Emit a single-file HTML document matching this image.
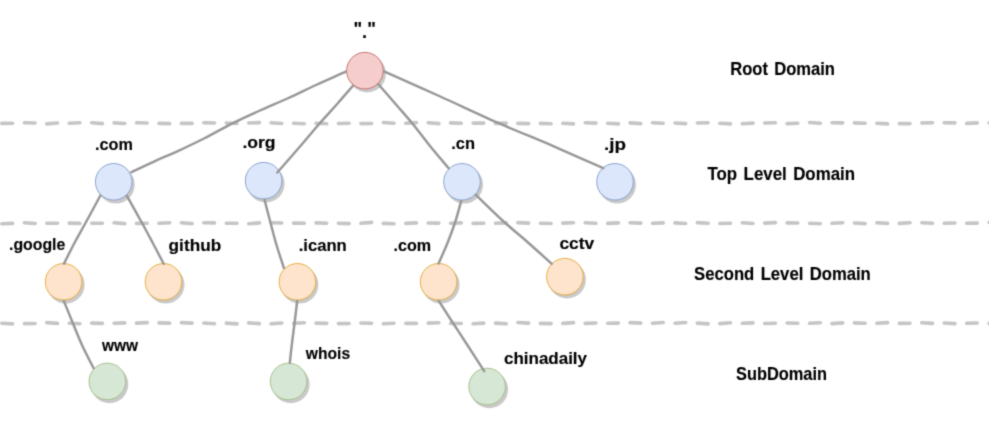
<!DOCTYPE html>
<html lang="en">
<head>
<meta charset="utf-8">
<title>DNS domain hierarchy</title>
<style>
html,body{margin:0;padding:0;background:#fff;}
body{width:989px;height:427px;overflow:hidden;}
svg{display:block;}
text{font-family:"Liberation Sans","DejaVu Sans",sans-serif;font-weight:bold;font-size:19px;fill:#000;stroke:#000;stroke-width:0.15px;word-spacing:2px;}
text.lc{font-size:17px;}
.edge{fill:none;stroke:#979797;stroke-width:2.45;stroke-linecap:round;stroke-linejoin:round;}
.sep{fill:none;stroke:#c5c5c5;stroke-width:3.6;stroke-linecap:round;}
.sh{fill:#000;fill-opacity:0.21;}
</style>
</head>
<body>
<svg width="989" height="427" viewBox="0 0 989 427">
<defs><filter id="soft" x="0" y="0" width="989" height="427" filterUnits="userSpaceOnUse" color-interpolation-filters="sRGB"><feConvolveMatrix order="3" kernelMatrix="1 4 1 4 18 4 1 4 1" edgeMode="duplicate" preserveAlpha="true"/></filter></defs>
<rect width="989" height="427" fill="#fff"/>
<g filter="url(#soft)">
<rect width="989" height="427" fill="#fff"/>
<g id="separators">
<path class="sep" d="M-20.5,123.5 L-9.8,123.0 M1.9,123.4 L12.6,123.2 M24.4,122.7 L35.1,123.0 M46.8,123.9 L57.5,123.0 M69.2,123.2 L79.9,122.8 M91.7,122.7 L102.4,123.6 M114.1,122.9 L124.8,123.5 M136.5,122.8 L147.2,123.0 M159.0,123.4 L169.7,123.6 M181.4,123.4 L192.1,123.4 M203.8,122.7 L214.5,123.0 M226.3,123.0 L237.0,123.5 M248.7,123.0 L259.4,122.6 M271.1,122.8 L281.8,123.5 M293.6,123.3 L304.3,123.7 M316.0,123.3 L326.7,123.7 M338.4,123.5 L349.1,123.3 M360.9,123.6 L371.6,123.5 M383.3,122.5 L394.0,123.2 M405.8,123.3 L416.4,122.6 M428.2,122.7 L438.9,123.6 M450.6,122.9 L461.3,123.2 M473.1,123.1 L483.8,123.1 M495.5,123.4 L506.2,123.1 M517.9,123.4 L528.6,123.6 M540.4,123.4 L551.1,123.7 M562.8,123.3 L573.5,123.9 M585.2,122.8 L595.9,123.1 M607.7,123.2 L618.4,123.9 M630.1,122.9 L640.8,123.6 M652.5,122.8 L663.2,123.2 M675.0,123.0 L685.7,123.6 M697.4,123.0 L708.1,122.7 M719.8,123.3 L730.5,123.9 M742.3,123.8 L753.0,123.1 M764.7,123.0 L775.4,122.8 M787.1,123.6 L797.8,123.2 M809.6,122.5 L820.3,123.2 M832.0,122.7 L842.7,122.9 M854.4,122.9 L865.1,123.3 M876.9,123.2 L887.6,123.9 M899.3,123.6 L910.0,123.6 M921.8,123.0 L932.5,122.7 M944.2,122.7 L954.9,122.9 M966.6,123.4 L977.3,122.9 M989.1,122.8 L999.8,123.0"/>
<path class="sep" d="M-20.5,223.9 L-9.8,223.1 M1.9,223.7 L12.6,223.4 M24.4,222.7 L35.1,223.5 M46.8,223.3 L57.5,223.2 M69.2,223.1 L79.9,223.4 M91.7,223.2 L102.4,223.3 M114.1,222.8 L124.8,223.6 M136.5,223.4 L147.2,223.3 M159.0,223.3 L169.7,222.8 M181.4,222.8 L192.1,223.6 M203.8,222.8 L214.5,222.9 M226.3,223.3 L237.0,223.2 M248.7,223.7 L259.4,222.9 M271.1,222.7 L281.8,223.0 M293.6,223.1 L304.3,223.3 M316.0,222.9 L326.7,223.2 M338.4,223.2 L349.1,223.6 M360.9,223.3 L371.6,222.4 M383.3,223.4 L394.0,223.7 M405.8,223.4 L416.4,222.9 M428.2,223.0 L438.9,223.1 M450.6,223.2 L461.3,222.9 M473.1,223.4 L483.8,223.2 M495.5,223.3 L506.2,222.9 M517.9,222.6 L528.6,223.1 M540.4,223.3 L551.1,223.5 M562.8,223.1 L573.5,222.8 M585.2,222.7 L595.9,223.3 M607.7,223.4 L618.4,222.9 M630.1,222.7 L640.8,223.1 M652.5,223.2 L663.2,222.9 M675.0,222.9 L685.7,223.5 M697.4,222.6 L708.1,223.3 M719.8,223.5 L730.5,223.2 M742.3,222.8 L753.0,223.5 M764.7,223.1 L775.4,222.6 M787.1,222.9 L797.8,223.0 M809.6,223.2 L820.3,223.7 M832.0,223.3 L842.7,222.7 M854.4,223.0 L865.1,223.6 M876.9,222.8 L887.6,223.4 M899.3,223.4 L910.0,222.7 M921.8,222.8 L932.5,223.3 M944.2,223.3 L954.9,223.0 M966.6,223.2 L977.3,223.1 M989.1,222.5 L999.8,223.3"/>
<path class="sep" d="M-20.5,324.0 L-9.8,323.1 M1.9,323.2 L12.6,323.9 M24.4,323.6 L35.1,323.5 M46.8,322.6 L57.5,323.4 M69.2,323.2 L79.9,323.7 M91.7,323.1 L102.4,323.4 M114.1,323.3 L124.8,322.9 M136.5,323.1 L147.2,322.6 M159.0,322.9 L169.7,323.1 M181.4,322.6 L192.1,323.1 M203.8,323.0 L214.5,323.7 M226.3,323.1 L237.0,323.9 M248.7,322.9 L259.4,323.6 M271.1,323.8 L281.8,323.0 M293.6,323.3 L304.3,322.7 M316.0,323.1 L326.7,323.4 M338.4,323.6 L349.1,323.5 M360.9,323.0 L371.6,323.2 M383.3,323.7 L394.0,323.3 M405.8,323.4 L416.4,323.4 M428.2,323.1 L438.9,322.8 M450.6,323.4 L461.3,323.5 M473.1,323.7 L483.8,323.1 M495.5,323.1 L506.2,323.8 M517.9,322.5 L528.6,323.1 M540.4,323.4 L551.1,323.6 M562.8,323.4 L573.5,322.6 M585.2,323.4 L595.9,323.0 M607.7,323.2 L618.4,323.1 M630.1,322.6 L640.8,323.1 M652.5,323.3 L663.2,322.5 M675.0,323.2 L685.7,322.5 M697.4,323.1 L708.1,323.9 M719.8,323.6 L730.5,322.8 M742.3,323.2 L753.0,322.9 M764.7,323.5 L775.4,323.2 M787.1,323.0 L797.8,323.2 M809.6,323.3 L820.3,322.8 M832.0,323.6 L842.7,322.9 M854.4,322.9 L865.1,323.3 M876.9,323.3 L887.6,322.6 M899.3,323.4 L910.0,323.2 M921.8,322.8 L932.5,323.4 M944.2,323.0 L954.9,323.6 M966.6,323.2 L977.3,323.0 M989.1,323.4 L999.8,323.4"/>
</g>
<g id="nodes">
<circle class="sh" cx="367.1" cy="73.7" r="18.8"/><circle cx="364.9" cy="70.7" r="18.3" fill="#f6cdcd" stroke="#c0605c" stroke-width="0.85"/>
<circle class="sh" cx="115.9" cy="184.8" r="18.8"/><circle cx="113.7" cy="181.8" r="18.3" fill="#dce7fb" stroke="#7a96c6" stroke-width="0.85"/>
<circle class="sh" cx="265.8" cy="183.7" r="18.8"/><circle cx="263.6" cy="180.7" r="18.3" fill="#dce7fb" stroke="#7a96c6" stroke-width="0.85"/>
<circle class="sh" cx="464.2" cy="184.8" r="18.8"/><circle cx="462.0" cy="181.8" r="18.3" fill="#dce7fb" stroke="#7a96c6" stroke-width="0.85"/>
<circle class="sh" cx="617.2" cy="184.8" r="18.8"/><circle cx="615.0" cy="181.8" r="18.3" fill="#dce7fb" stroke="#7a96c6" stroke-width="0.85"/>
<circle class="sh" cx="65.8" cy="284.8" r="18.8"/><circle cx="63.6" cy="281.8" r="18.3" fill="#fee3cd" stroke="#e0a526" stroke-width="0.85"/>
<circle class="sh" cx="165.7" cy="284.8" r="18.8"/><circle cx="163.5" cy="281.8" r="18.3" fill="#fee3cd" stroke="#e0a526" stroke-width="0.85"/>
<circle class="sh" cx="299.6" cy="284.8" r="18.8"/><circle cx="297.4" cy="281.8" r="18.3" fill="#fee3cd" stroke="#e0a526" stroke-width="0.85"/>
<circle class="sh" cx="440.8" cy="284.8" r="18.8"/><circle cx="438.6" cy="281.8" r="18.3" fill="#fee3cd" stroke="#e0a526" stroke-width="0.85"/>
<circle class="sh" cx="567.1" cy="279.7" r="18.8"/><circle cx="564.9" cy="276.7" r="18.3" fill="#fee3cd" stroke="#e0a526" stroke-width="0.85"/>
<circle class="sh" cx="109.5" cy="384.4" r="18.8"/><circle cx="107.3" cy="381.4" r="18.3" fill="#d6e7d5" stroke="#9dba7c" stroke-width="0.85"/>
<circle class="sh" cx="290.8" cy="384.5" r="18.8"/><circle cx="288.6" cy="381.5" r="18.3" fill="#d6e7d5" stroke="#9dba7c" stroke-width="0.85"/>
<circle class="sh" cx="489.3" cy="389.5" r="18.8"/><circle cx="487.1" cy="386.5" r="18.3" fill="#d6e7d5" stroke="#9dba7c" stroke-width="0.85"/>
</g>
<g id="edges">
<path class="edge" d="M345.8,71.6 C340.9,73.9 325.5,80.6 316.0,85.0 C306.5,89.4 297.9,93.8 288.6,98.0 C279.3,102.2 269.4,106.3 260.0,110.5 C250.6,114.7 241.7,118.7 232.4,123.4 C223.1,128.1 213.4,133.8 204.0,138.5 C194.6,143.2 184.1,148.2 176.2,151.9 C168.3,155.6 163.9,157.0 156.5,160.4 C149.1,163.8 135.8,170.2 131.6,172.2"/>
<path class="edge" d="M353.0,85.7 C350.5,88.5 343.5,96.7 338.0,103.0 C332.5,109.3 326.1,116.0 319.8,123.2 C313.5,130.4 307.1,138.3 300.0,146.5 C292.9,154.7 281.1,168.2 277.3,172.5"/>
<path class="edge" d="M378.4,84.2 C381.4,87.6 390.4,98.0 396.0,104.5 C401.6,111.0 406.5,116.3 412.2,123.2 C417.9,130.1 423.9,138.5 430.0,146.0 C436.1,153.5 445.6,164.6 448.7,168.3"/>
<path class="edge" d="M384.0,71.3 C393.4,75.5 421.1,87.8 440.3,96.5 C459.5,105.2 480.6,115.2 499.3,123.4 C518.0,131.6 535.4,138.4 552.7,145.9 C570.0,153.4 594.9,164.5 603.3,168.2"/>
<path class="edge" d="M100.4,195.5 C98.1,199.9 90.5,213.8 86.3,221.5 C82.1,229.2 78.7,235.0 75.0,242.0 C71.3,249.0 65.8,260.0 64.0,263.6"/>
<path class="edge" d="M126.8,195.7 C129.3,200.1 137.2,214.2 141.5,222.0 C145.8,229.8 148.8,235.5 152.5,242.5 C156.2,249.5 161.8,260.2 163.7,263.8"/>
<path class="edge" d="M264.5,199.8 C265.5,203.5 268.3,214.5 270.3,222.0 C272.3,229.5 274.2,237.4 276.5,245.0 C278.8,252.6 282.6,264.0 283.8,267.8"/>
<path class="edge" d="M461.2,200.9 C460.2,204.4 457.5,215.0 455.2,222.0 C452.9,229.0 450.3,236.1 447.5,243.0 C444.7,249.9 440.0,260.2 438.5,263.6"/>
<path class="edge" d="M475.9,194.9 C480.6,199.4 495.5,214.1 504.2,222.0 C512.9,229.9 520.1,235.5 528.0,242.5 C535.9,249.5 547.8,260.2 551.8,263.8"/>
<path class="edge" d="M63.8,300.9 C65.3,304.7 70.0,316.1 73.0,323.5 C76.0,330.9 78.6,337.5 82.0,345.0 C85.4,352.5 91.7,364.4 93.6,368.3"/>
<path class="edge" d="M297.2,300.9 C296.7,304.7 295.4,316.5 294.5,323.5 C293.6,330.5 292.8,336.4 292.0,343.0 C291.2,349.6 290.2,359.5 289.8,362.8"/>
<path class="edge" d="M438.8,300.9 C441.2,304.7 448.4,316.0 453.3,323.5 C458.2,331.0 462.9,338.1 468.0,346.0 C473.1,353.9 481.5,367.0 484.2,371.2"/>
</g>
<g id="labels">
<text x="353.4" y="37.5" textLength="22.5" lengthAdjust="spacingAndGlyphs"><tspan dy="-2.2">"</tspan><tspan dy="2.2">.</tspan><tspan dy="-2.2">"</tspan></text>
<text class="lc" x="95.0" y="149.6" textLength="37.8" lengthAdjust="spacingAndGlyphs">.com</text>
<text class="lc" x="242.4" y="148.2" textLength="33.2" lengthAdjust="spacingAndGlyphs">.org</text>
<text class="lc" x="451.2" y="149.3" textLength="23.8" lengthAdjust="spacingAndGlyphs">.cn</text>
<text class="lc" x="604.0" y="149.6" textLength="22.0" lengthAdjust="spacingAndGlyphs">.jp</text>
<text class="lc" x="9.0" y="250.1" textLength="56.3" lengthAdjust="spacingAndGlyphs">.google</text>
<text class="lc" x="168.6" y="250.9" textLength="52.6" lengthAdjust="spacingAndGlyphs">github</text>
<text class="lc" x="298.7" y="251.1" textLength="48.0" lengthAdjust="spacingAndGlyphs">.icann</text>
<text class="lc" x="393.5" y="251.1" textLength="37.5" lengthAdjust="spacingAndGlyphs">.com</text>
<text class="lc" x="559.4" y="248.8" textLength="34.8" lengthAdjust="spacingAndGlyphs">cctv</text>
<text class="lc" x="101.9" y="351.4" textLength="36.0" lengthAdjust="spacingAndGlyphs">www</text>
<text class="lc" x="305.8" y="358.6" textLength="44.3" lengthAdjust="spacingAndGlyphs">whois</text>
<text class="lc" x="504.0" y="363.6" textLength="83.0" lengthAdjust="spacingAndGlyphs">chinadaily</text>
<text x="730.2" y="74.6" textLength="104.8" lengthAdjust="spacingAndGlyphs">Root Domain</text>
<text x="707.5" y="180.4" textLength="147.5" lengthAdjust="spacingAndGlyphs">Top Level Domain</text>
<text x="694.1" y="280.4" textLength="176.7" lengthAdjust="spacingAndGlyphs">Second Level Domain</text>
<text x="736.0" y="380.3" textLength="91.0" lengthAdjust="spacingAndGlyphs">SubDomain</text>
</g>
</g>
</svg>
</body>
</html>
